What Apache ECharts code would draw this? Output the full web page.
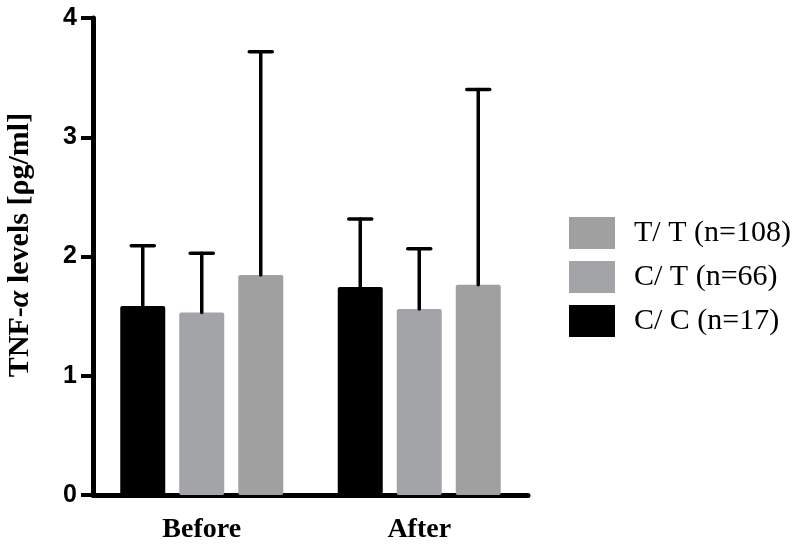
<!DOCTYPE html>
<html>
<head>
<meta charset="utf-8">
<script src="https://cdn.jsdelivr.net/npm/echarts@6/dist/echarts.min.js"></script>
<style>html,body{margin:0;padding:0;background:#fff}#c{width:796px;height:548px}</style>
</head>
<body>
<div id="c"></div>
<script>
var categories = ['Before', 'After'];
var seriesNames = ['C/ C (n=17)', 'C/ T (n=66)', 'T/ T (n=108)'];
var legendOrder = ['T/ T (n=108)', 'C/ T (n=66)', 'C/ C (n=17)'];
var meanCC = [1.585, 1.744];
var meanCT = [1.53, 1.56];
var meanTT = [1.845, 1.764];
var upperCC = [2.09, 2.314];
var upperCT = [2.027, 2.065];
var upperTT = [3.717, 3.40];
var yTicks = [0, 1, 2, 3, 4];

var colors = ['#000000', '#a3a4a8', '#a0a0a0'];
var means = [meanCC, meanCT, meanTT];
var uppers = [upperCC, upperCT, upperTT];
var BAR_W = 45, BAR_GAP = 14;

var chart = echarts.init(document.getElementById('c'));

var series = [];
for (var s = 0; s < 3; s++) {
  series.push({
    name: seriesNames[s],
    type: 'bar',
    barWidth: BAR_W,
    barGap: (BAR_GAP / BAR_W * 100) + '%',
    itemStyle: { color: colors[s], borderRadius: 2 },
    data: means[s],
    z: 2
  });
}
for (var s2 = 0; s2 < 3; s2++) {
  (function (idx) {
    var data = [];
    for (var i = 0; i < categories.length; i++) {
      data.push([i, means[idx][i], uppers[idx][i]]);
    }
    series.push({
      type: 'custom',
      name: seriesNames[idx] + ' err',
      z: 5,
      silent: true,
      data: data,
      encode: { x: 0, y: [1, 2] },
      renderItem: function (params, api) {
        var c = api.value(0);
        var lo = api.coord([c, api.value(1)]);
        var hi = api.coord([c, api.value(2)]);
        var off = (idx - 1) * (BAR_W + BAR_GAP);
        var x = lo[0] + off;
        var hw = 11.5;
        var st = { stroke: '#000', lineWidth: 3.5, lineCap: 'round' };
        return {
          type: 'group',
          children: [
            { type: 'line', shape: { x1: x, y1: lo[1], x2: x, y2: hi[1] }, style: st },
            { type: 'line', shape: { x1: x - hw, y1: hi[1], x2: x + hw, y2: hi[1] }, style: st }
          ]
        };
      }
    });
  })(s2);
}

chart.setOption({
  animation: false,
  backgroundColor: '#ffffff',
  grid: { left: 93, right: 268, top: 18, bottom: 53 },
  legend: {
    data: legendOrder,
    orient: 'vertical',
    left: 564,
    top: 212,
    itemWidth: 46,
    itemHeight: 32,
    itemGap: 12,
    icon: 'rect',
    textStyle: {
      fontFamily: 'Liberation Serif',
      fontSize: 30,
      color: '#000',
      lineHeight: 32,
      padding: [0, 0, 0, 14]
    }
  },
  xAxis: {
    type: 'category',
    data: categories,
    axisLine: { lineStyle: { color: '#000', width: 5 } },
    axisTick: { alignWithLabel: true, length: 14, lineStyle: { color: '#000', width: 4 } },
    axisLabel: {
      color: '#000',
      fontFamily: 'Liberation Serif',
      fontWeight: 'bold',
      fontSize: 28,
      margin: 21
    }
  },
  yAxis: {
    type: 'value',
    min: yTicks[0],
    max: yTicks[yTicks.length - 1],
    interval: 1,
    splitLine: { show: false },
    axisLine: { show: true, lineStyle: { color: '#000', width: 5 } },
    axisTick: { show: true, length: 12, lineStyle: { color: '#000', width: 4 } },
    axisLabel: {
      color: '#000',
      fontFamily: 'Liberation Sans',
      fontWeight: 'bold',
      fontSize: 25,
      margin: 16
    }
  },
  graphic: [{
    type: 'text',
    x: 20,
    y: 245,
    rotation: Math.PI / 2,
    style: {
      text: '{a|TNF-}{i|α}{a| levels [ρg/ml]}',
      align: 'center',
      verticalAlign: 'middle',
      fill: '#000',
      rich: {
        a: { fontFamily: 'Liberation Serif', fontWeight: 'bold', fontSize: 30, fill: '#000' },
        i: { fontFamily: 'Liberation Serif', fontWeight: 'bold', fontStyle: 'italic', fontSize: 30, fill: '#000' }
      }
    }
  }],
  series: series
});
</script>
</body>
</html>
